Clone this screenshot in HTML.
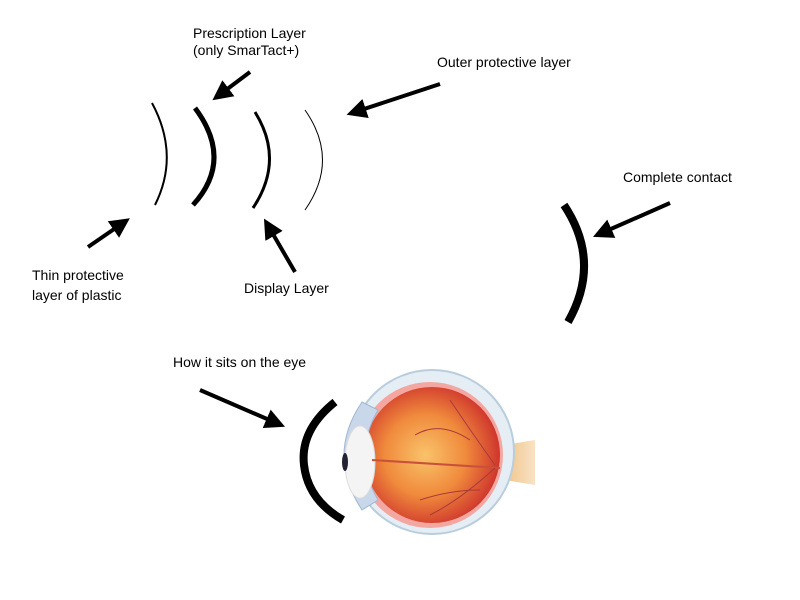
<!DOCTYPE html>
<html><head><style>
body{margin:0;background:#fff;}
svg{display:block}
text{font-family:"Liberation Sans",Arial,sans-serif;font-size:14px;fill:#000}
</style></head><body>
<svg width="800" height="600" viewBox="0 0 800 600" xmlns="http://www.w3.org/2000/svg">
<defs>
<marker id="ah" markerWidth="5" markerHeight="5" refX="2" refY="2.5" orient="auto" markerUnits="strokeWidth">
<path d="M0,0 L5,2.5 L0,5 z" fill="#000"/></marker>
<radialGradient id="globe" cx="0.45" cy="0.5" r="0.6">
<stop offset="0" stop-color="#f9c36a"/><stop offset="0.5" stop-color="#f08a3c"/><stop offset="1" stop-color="#c8242a"/></radialGradient>
<linearGradient id="nerve" x1="0" y1="0" x2="1" y2="0"><stop offset="0" stop-color="#f2c48a"/><stop offset="1" stop-color="#f7e3c4"/></linearGradient>
</defs>
<text x="193" y="38">Prescription Layer</text>
<text x="193" y="55">(only SmarTact+)</text>
<text x="437" y="67">Outer protective layer</text>
<text x="623" y="182">Complete contact</text>
<text x="32" y="280">Thin protective</text>
<text x="32" y="300">layer of plastic</text>
<text x="244" y="293">Display Layer</text>
<text x="173" y="367">How it sits on the eye</text>
<g stroke="#000" stroke-width="4" fill="none" marker-end="url(#ah)">
<line x1="250" y1="72" x2="222" y2="93"/>
<line x1="440" y1="84" x2="358" y2="111"/>
<line x1="670" y1="203" x2="604" y2="232"/>
<line x1="88" y1="247" x2="120" y2="225"/>
<line x1="295" y1="272" x2="270" y2="229"/>
<line x1="200" y1="390" x2="274" y2="422"/>
</g>
<g fill="none" stroke="#000">
<path d="M152,103 Q180,155 155,205" stroke-width="2"/>
<path d="M195,108 Q234,160 193,205" stroke-width="5"/>
<path d="M255,112 Q285,160 253,208" stroke-width="3"/>
<path d="M305,110 Q340,160 305,210" stroke-width="1"/>
<path d="M564,205 Q602,262 568,322" stroke-width="8"/>
</g>
<!-- eye -->
<path d="M505,445 L535,440 L535,485 L505,480 z" fill="url(#nerve)"/>
<circle cx="432" cy="452" r="82" fill="#e6eef5" stroke="#b9cddd" stroke-width="2"/>
<circle cx="430" cy="455" r="73" fill="#f4a7a0"/>
<circle cx="432" cy="455" r="68" fill="url(#globe)"/>
<path d="M362,402 Q326,455 362,510 L378,500 Q352,455 378,410 z" fill="#c8d8ea" stroke="#9fb6d0"/>
<ellipse cx="360" cy="462" rx="15" ry="36" fill="#f4f4f4" stroke="#ddd"/>
<ellipse cx="345" cy="462" rx="3" ry="9" fill="#223"/>
<path d="M372,460 L500,468" stroke="#c9503a" stroke-width="2"/>
<g stroke="#a83a3a" stroke-width="1" fill="none">
<path d="M495,465 Q470,430 450,400"/><path d="M495,468 Q460,500 430,515"/><path d="M470,440 Q440,420 415,435"/><path d="M480,490 Q450,490 420,500"/>
</g>
<path d="M335,402 Q300,430 304,465 Q308,500 343,520" fill="none" stroke="#000" stroke-width="8"/>
</svg>
</body></html>
